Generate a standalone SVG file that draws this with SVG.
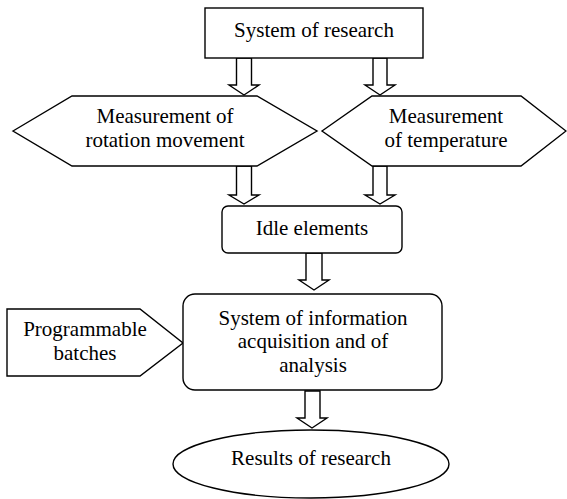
<svg xmlns="http://www.w3.org/2000/svg" width="567" height="499" viewBox="0 0 567 499">
<style>
.s{fill:#fff;stroke:#000;stroke-width:1.4;stroke-linejoin:miter}
.t{font-family:"Liberation Serif","Times New Roman",serif;font-size:21px;fill:#000;text-anchor:middle}
</style>
<rect width="567" height="499" fill="#fff"/>
<g id="connectors">
<polygon class="s" points="236.5,58 251.5,58 251.5,85 259,85 244,95 229,85 236.5,85"/>
<polygon class="s" points="373,58 387,58 387,85 395,85 380,95 365,85 373,85"/>
<polygon class="s" points="236.5,166 251.5,166 251.5,195 259,195 244,204 229,195 236.5,195"/>
<polygon class="s" points="373,166 387,166 387,195 395,195 380,204 365,195 373,195"/>
<polygon class="s" points="306,253 322,253 322,280 329,280 314,290 299,280 306,280"/>
<polygon class="s" points="305,391 320,391 320,418 327,418 312,428 297,418 305,418"/>
</g>
<g id="n-system-research">
<rect class="s" x="205" y="8" width="218" height="50"/>
<text class="t" x="314" y="37">System of research</text>
</g>
<g id="n-rotation">
<polygon class="s" points="13,131 72,96 257,96 317,131 257,166 72,166"/>
<text class="t" x="165" y="123">Measurement of</text>
<text class="t" x="165" y="147">rotation movement</text>
</g>
<g id="n-temperature">
<polygon class="s" points="322,131 372,96 521,96 566,131 521,166 372,166"/>
<text class="t" x="446" y="123">Measurement</text>
<text class="t" x="446" y="147">of temperature</text>
</g>
<g id="n-idle">
<rect class="s" x="222" y="206" width="180" height="47" rx="6"/>
<text class="t" x="312" y="235">Idle elements</text>
</g>
<g id="n-programmable">
<polygon class="s" points="7,309 140,309 183,343 140,376 7,376"/>
<text class="t" x="85" y="336">Programmable</text>
<text class="t" x="85" y="360">batches</text>
</g>
<g id="n-acquisition">
<rect class="s" x="183" y="294" width="259" height="96" rx="12"/>
<text class="t" x="313" y="325">System of information</text>
<text class="t" x="313" y="348">acquisition and of</text>
<text class="t" x="313" y="372">analysis</text>
</g>
<g id="n-results">
<ellipse class="s" cx="311" cy="464" rx="138" ry="34"/>
<text class="t" x="311" y="465">Results of research</text>
</g>
</svg>
